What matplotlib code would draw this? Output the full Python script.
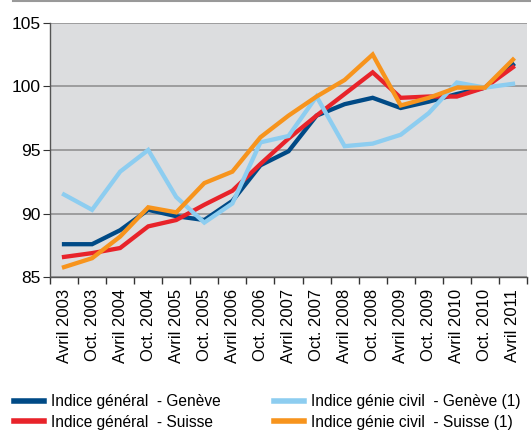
import numpy as np
import matplotlib
matplotlib.use("Agg")
import matplotlib.pyplot as plt
from matplotlib.lines import Line2D

plt.rcParams['font.family'] = ['Liberation Sans', 'DejaVu Sans']

# Categories (semesters)
periods = ["Avril 2003", "Oct. 2003", "Avril 2004", "Oct. 2004", "Avril 2005",
           "Oct. 2005", "Avril 2006", "Oct. 2006", "Avril 2007", "Oct. 2007",
           "Avril 2008", "Oct. 2008", "Avril 2009", "Oct. 2009", "Avril 2010",
           "Oct. 2010", "Avril 2011"]

general_geneve = [87.6, 87.6, 88.7, 90.3, 89.8, 89.5, 91.0, 93.8, 94.9, 97.7,
                  98.6, 99.1, 98.3, 98.8, 99.4, 99.9, 101.7]
general_suisse = [86.6, 86.9, 87.3, 89.0, 89.5, 90.7, 91.8, 93.9, 95.9, 97.7,
                  99.4, 101.1, 99.1, 99.2, 99.2, 99.9, 101.5]
civil_geneve = [91.5, 90.3, 93.3, 95.0, 91.3, 89.3, 90.8, 95.6, 96.1, 99.2,
                95.3, 95.5, 96.2, 97.9, 100.3, 99.9, 100.2]
civil_suisse = [85.8, 86.5, 88.2, 90.5, 90.1, 92.4, 93.3, 96.0, 97.7, 99.2,
                100.5, 102.5, 98.5, 99.1, 99.9, 99.9, 102.1]

series = [
    ("Indice général  - Genève", general_geneve, "#004a86"),
    ("Indice général  - Suisse", general_suisse, "#e8232a"),
    ("Indice génie civil  - Genève (1)", civil_geneve, "#8dcdf0"),
    ("Indice génie civil  - Suisse (1)", civil_suisse, "#f7941d"),
]

fig = plt.figure(figsize=(5.31, 4.30), dpi=100)
ax = fig.add_axes([50 / 531, 1 - 277.3 / 430, 477 / 531, 254.6 / 430])
ax.set_facecolor("#dcdddf")

x = np.arange(len(periods))
for label, vals, color in series:
    ax.plot(x, vals, color=color, lw=3.1, label=label, solid_joinstyle="miter")

ax.set_xlim(-0.5, len(periods) - 0.5)
ax.set_ylim(85, 105)
ax.set_yticks([85, 90, 95, 100, 105])
ax.yaxis.grid(True, color="#8c8c8c", lw=1.1)
ax.set_axisbelow(True)

# ticks between categories, labels at the centre
ax.set_xticks(np.arange(-0.5, len(periods), 1.0))
ax.set_xticklabels([])
ax.set_xticks(x, minor=True)
ax.set_xticklabels(periods, minor=True, rotation=90, fontsize=12)
ax.tick_params(axis="x", which="minor", length=0, pad=8.5)
ax.tick_params(axis="x", which="major", length=5, color="#333333", width=1)
ax.tick_params(axis="y", length=5, color="#333333", labelsize=12.5, pad=2)

for s in ["top", "right"]:
    ax.spines[s].set_visible(False)
for s in ["left", "bottom"]:
    ax.spines[s].set_color("#555555")
    ax.spines[s].set_linewidth(1)

handles = [Line2D([0], [0], color=c, lw=4) for _, _, c in series]
labels = [l for l, _, _ in series]
fig.legend(handles, labels, loc="lower left", bbox_to_anchor=(14 / 531, 0.001),
           ncol=2, frameon=False, fontsize=11.2, handlelength=1.9,
           handletextpad=0.5, columnspacing=3.4, labelspacing=0.36,
           borderpad=0, borderaxespad=0)

# thin rule across the top
fig.add_artist(Line2D([13 / 531, 1], [1 - 0.5 / 430, 1 - 0.5 / 430],
                      color="#999999", lw=1.5, transform=fig.transFigure))

fig.savefig("out.png", dpi=100)
